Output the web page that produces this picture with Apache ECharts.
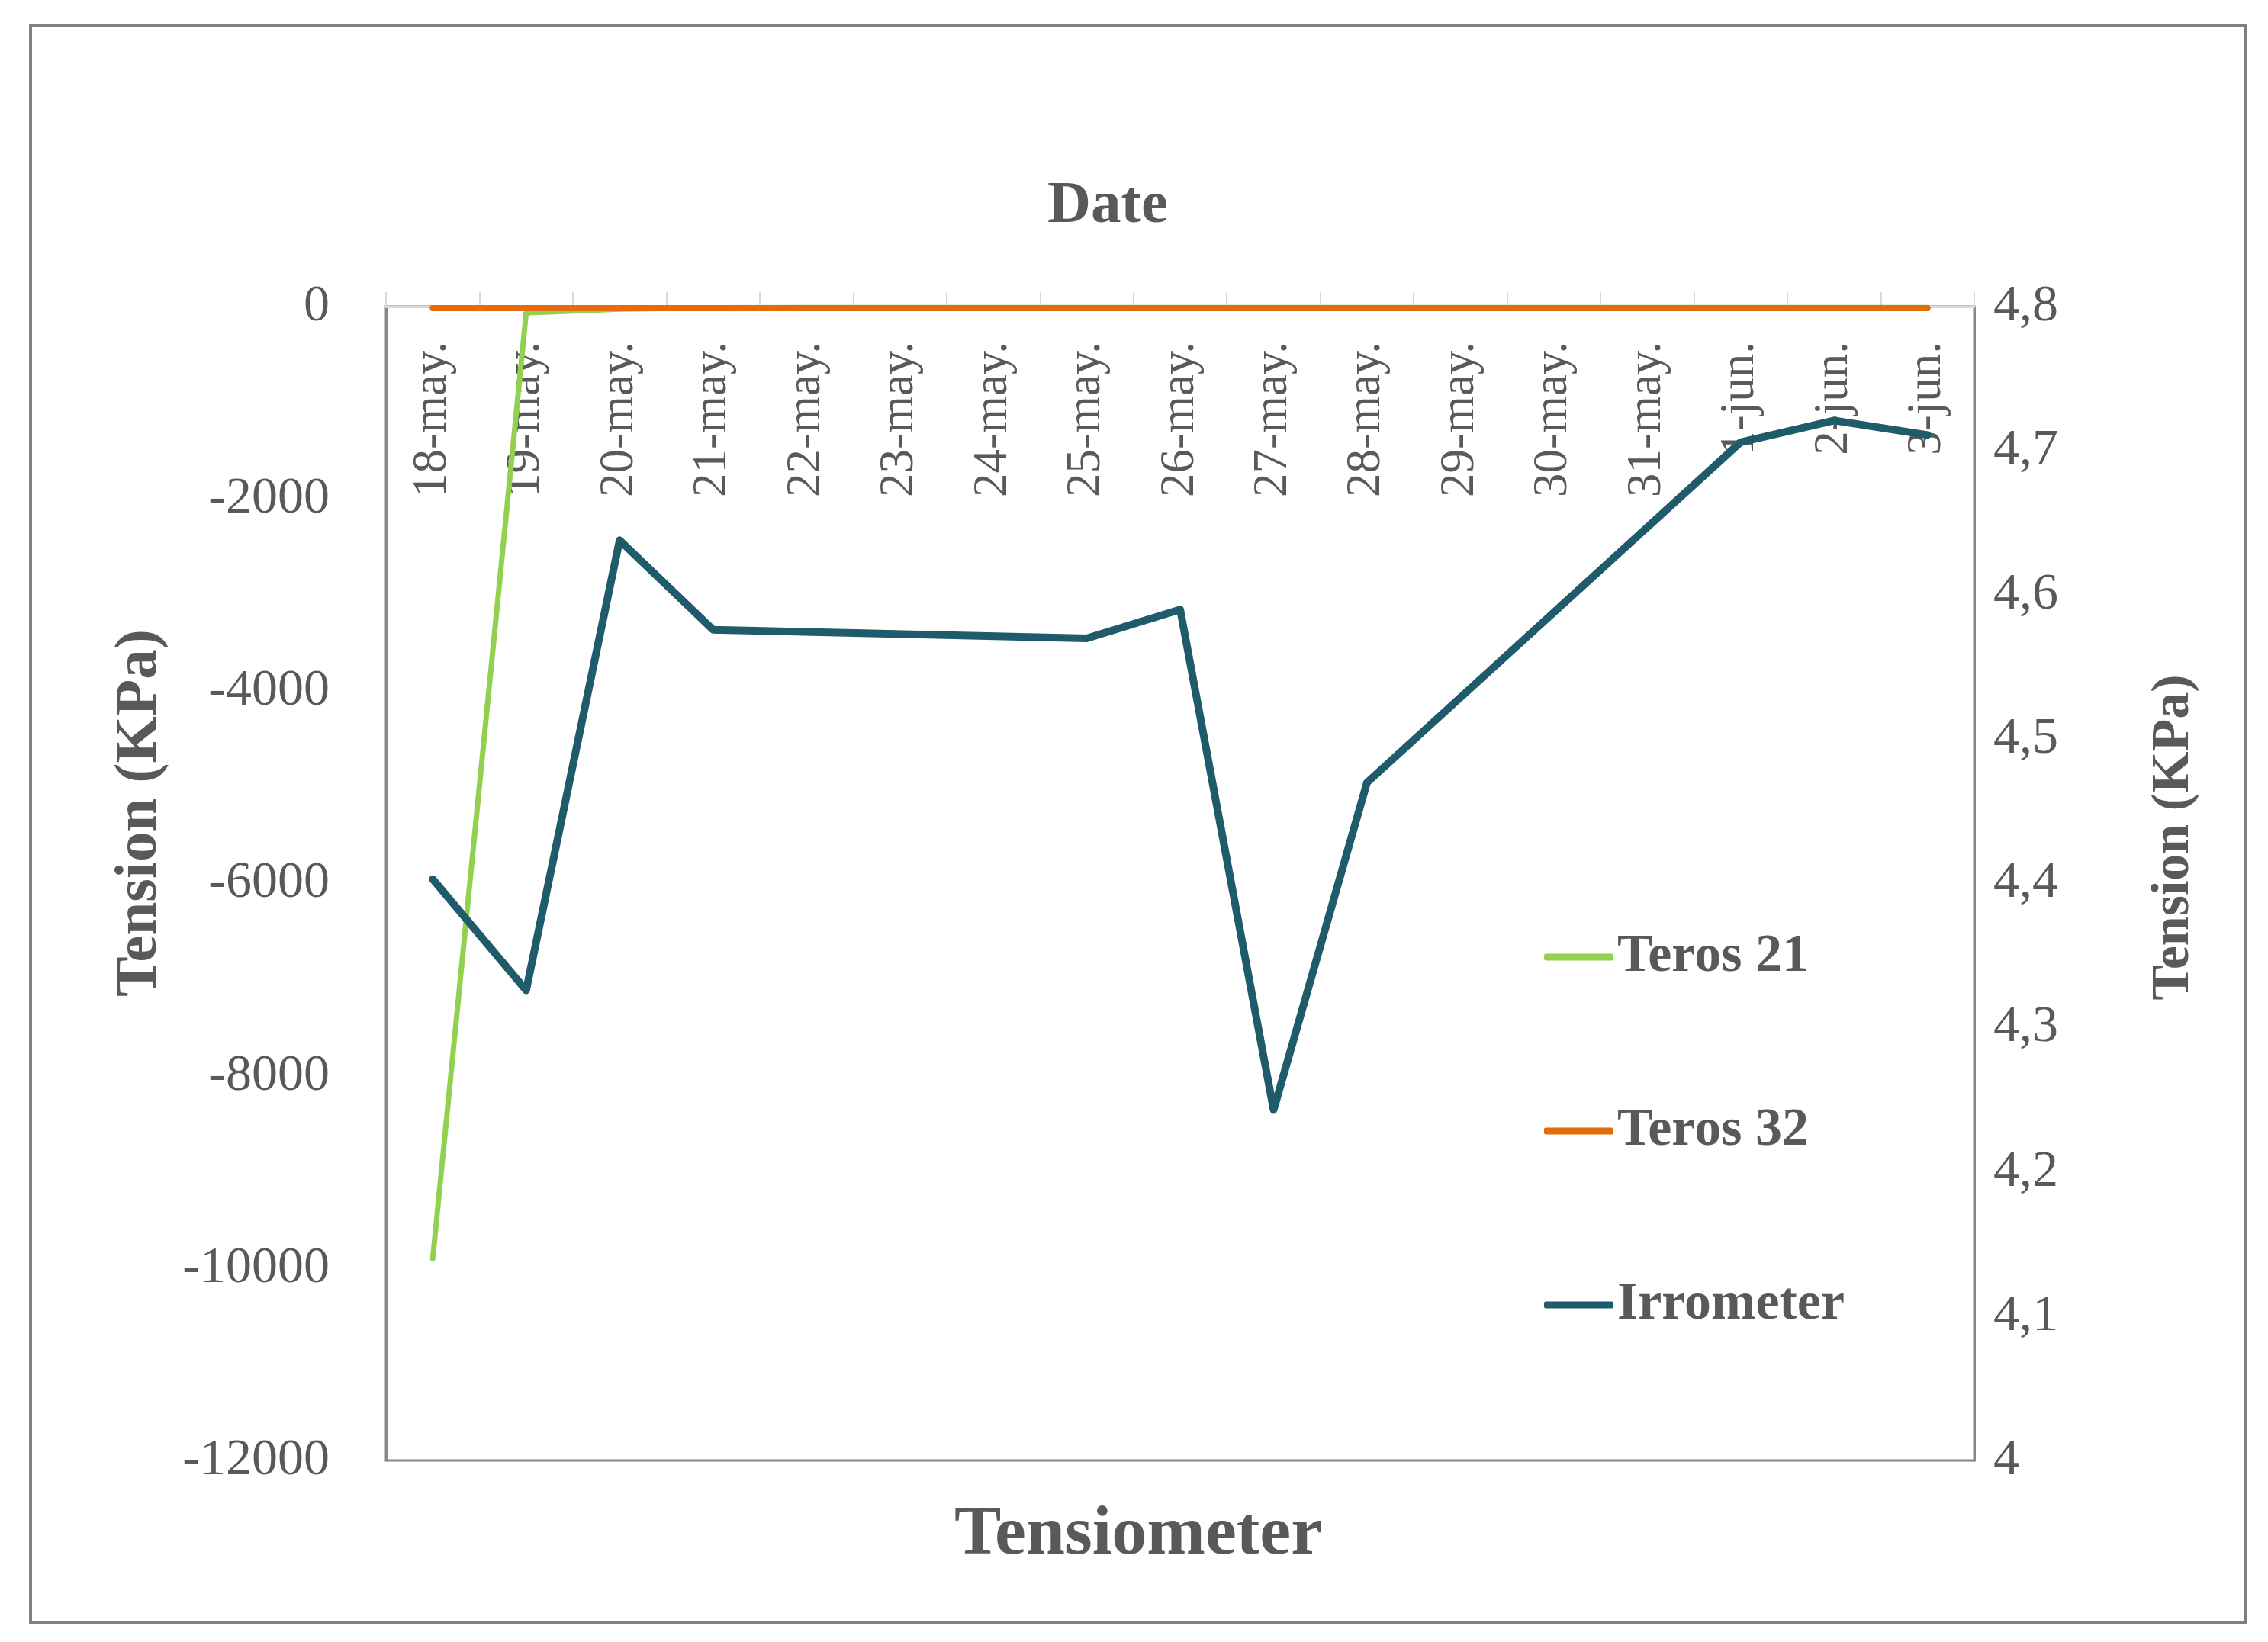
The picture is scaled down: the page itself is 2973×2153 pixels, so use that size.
<!DOCTYPE html>
<html>
<head>
<meta charset="utf-8">
<script src="https://cdn.jsdelivr.net/npm/echarts@6/dist/echarts.min.js"></script>
<style>
html,body{margin:0;padding:0;background:#fff;}
#chart{width:2973px;height:2153px;}
</style>
</head>
<body>
<div id="chart"></div>
<script>
var categories = ['18-may.','19-may.','20-may.','21-may.','22-may.','23-may.','24-may.','25-may.','26-may.','27-may.','28-may.','29-may.','30-may.','31-may.','1-jun.','2-jun.','3-jun.'];
var teros21 = [-9900, -65, -25, -12, -10, -10, -10, -10, -10, -10, -10, -10, -10, -10, -10, -10, -10];
var teros32 = [-15, -15, -15, -15, -15, -15, -15, -15, -15, -15, -15, -15, -15, -15, -15, -15, -15];
var irrometer = [4.403, 4.326, 4.638, 4.576, null, null, null, 4.570, 4.590, 4.243, 4.470, null, null, null, 4.706, 4.721, 4.711];
var leftTicks = {min: -12000, max: 0, interval: 2000};
var rightTicks = {min: 4, max: 4.8, interval: 0.1};

var FONT = '"Liberation Serif", "DejaVu Serif", serif';
var TXT = '#595959';

var chart = echarts.init(document.getElementById('chart'), null, {renderer: 'canvas'});
chart.setOption({
  backgroundColor: '#ffffff',
  animation: false,
  grid: {left: 506, right: 385, top: 402, bottom: 238, show: true, borderColor: '#868686', borderWidth: 3, backgroundColor: 'transparent'},
  legend: {
    orient: 'vertical', left: 2019, top: 1214, itemGap: 156,
    itemWidth: 91, itemHeight: 9, icon: 'roundRect',
    textStyle: {fontFamily: FONT, fontSize: 70, fontWeight: 'bold', color: TXT, lineHeight: 72},
    data: ['Teros 21', 'Teros 32', 'Irrometer']
  },
  xAxis: {
    type: 'category', data: categories, position: 'top', boundaryGap: true,
    axisLine: {onZero: false, lineStyle: {color: '#d9d9d9', width: 3}},
    axisTick: {show: true, length: 19, lineStyle: {color: '#d9d9d9', width: 2}},
    axisLabel: {inside: true, rotate: -90, margin: 46, interval: 0, fontFamily: FONT, fontSize: 63, color: TXT},
    splitLine: {show: false}
  },
  yAxis: [{
    type: 'value', min: leftTicks.min, max: leftTicks.max, interval: leftTicks.interval, position: 'left',
    axisLine: {show: true, lineStyle: {color: '#868686', width: 3}},
    axisTick: {show: false}, splitLine: {show: false},
    axisLabel: {margin: 74, fontFamily: FONT, fontSize: 68, color: TXT,
      formatter: function (v) { return String(v); }}
  }, {
    type: 'value', min: rightTicks.min, max: rightTicks.max, interval: rightTicks.interval, position: 'right',
    axisLine: {show: true, lineStyle: {color: '#868686', width: 3}},
    axisTick: {show: false}, splitLine: {show: false},
    axisLabel: {margin: 25, fontFamily: FONT, fontSize: 68, color: TXT,
      formatter: function (v) { return String(Math.round(v * 10) / 10).replace('.', ','); }}
  }],
  series: [{
    name: 'Teros 21', type: 'line', data: teros21, yAxisIndex: 0, symbol: 'none', z: 2,
    itemStyle: {color: '#92D050'},
    lineStyle: {color: '#92D050', width: 7, join: 'round', cap: 'round'}
  }, {
    name: 'Teros 32', type: 'line', data: teros32, yAxisIndex: 0, symbol: 'none', z: 3,
    itemStyle: {color: '#E46C0A'},
    lineStyle: {color: '#E46C0A', width: 8, join: 'round', cap: 'round'}
  }, {
    name: 'Irrometer', type: 'line', data: irrometer, yAxisIndex: 1, symbol: 'none', z: 4, connectNulls: true,
    itemStyle: {color: '#1F5B6B'},
    lineStyle: {color: '#1F5B6B', width: 10, join: 'round', cap: 'round'}
  }],
  graphic: [
    {type: 'rect', z: -1, shape: {x: 40, y: 34, width: 2904, height: 2093}, style: {fill: 'none', stroke: '#808080', lineWidth: 4}},
    {type: 'text', x: 1452, y: 271, style: {text: 'Date', font: 'bold 79px ' + FONT, fill: TXT, align: 'center', verticalAlign: 'middle'}},
    {type: 'text', x: 1492, y: 2013, style: {text: 'Tensiometer', font: 'bold 92px ' + FONT, fill: TXT, align: 'center', verticalAlign: 'middle'}},
    {type: 'text', x: 184, y: 1066, rotation: Math.PI / 2, style: {text: 'Tension (KPa)', font: 'bold 79px ' + FONT, fill: TXT, align: 'center', verticalAlign: 'middle'}},
    {type: 'text', x: 2850, y: 1098, rotation: Math.PI / 2, style: {text: 'Tension (KPa)', font: 'bold 70px ' + FONT, fill: TXT, align: 'center', verticalAlign: 'middle'}}
  ]
});
</script>
</body>
</html>
